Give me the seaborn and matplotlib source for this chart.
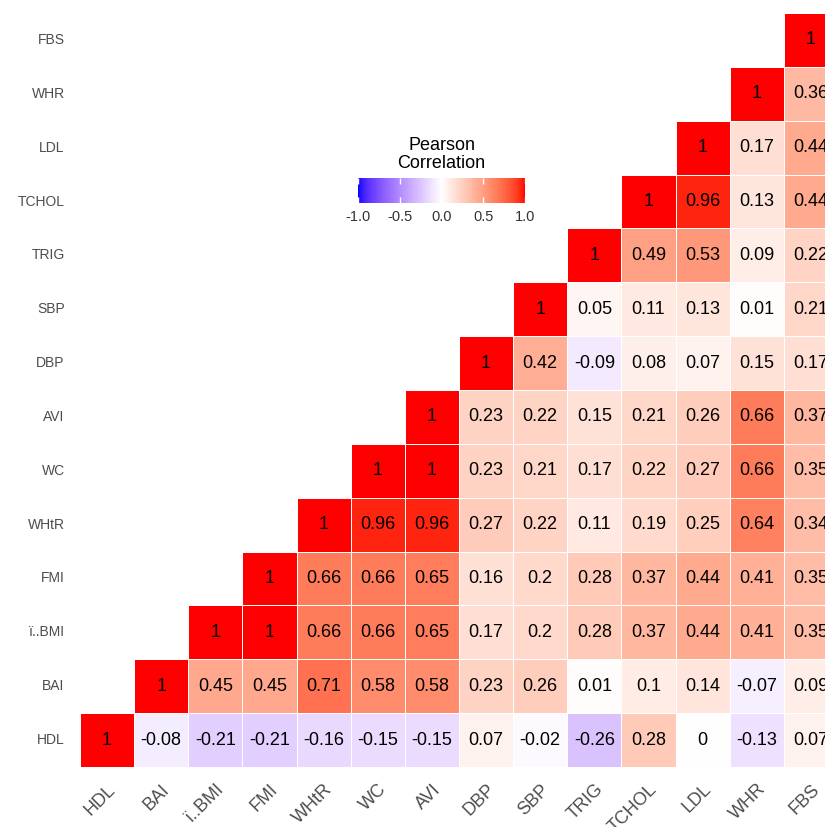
import numpy as np
import pandas as pd
import matplotlib
matplotlib.use("Agg")
import matplotlib.pyplot as plt
from matplotlib.colors import ListedColormap
import seaborn as sns

variables = ["HDL", "BAI", "ï..BMI", "FMI", "WHtR", "WC", "AVI", "DBP", "SBP",
             "TRIG", "TCHOL", "LDL", "WHR", "FBS"]

# upper-triangle rows: values from the diagonal to the last column
r_HDL = [1, -0.08, -0.21, -0.21, -0.16, -0.15, -0.15, 0.07, -0.02, -0.26, 0.28, 0, -0.13, 0.07]
r_BAI = [1, 0.45, 0.45, 0.71, 0.58, 0.58, 0.23, 0.26, 0.01, 0.1, 0.14, -0.07, 0.09]
r_BMI = [1, 1, 0.66, 0.66, 0.65, 0.17, 0.2, 0.28, 0.37, 0.44, 0.41, 0.35]
r_FMI = [1, 0.66, 0.66, 0.65, 0.16, 0.2, 0.28, 0.37, 0.44, 0.41, 0.35]
r_WHtR = [1, 0.96, 0.96, 0.27, 0.22, 0.11, 0.19, 0.25, 0.64, 0.34]
r_WC = [1, 1, 0.23, 0.21, 0.17, 0.22, 0.27, 0.66, 0.35]
r_AVI = [1, 0.23, 0.22, 0.15, 0.21, 0.26, 0.66, 0.37]
r_DBP = [1, 0.42, -0.09, 0.08, 0.07, 0.15, 0.17]
r_SBP = [1, 0.05, 0.11, 0.13, 0.01, 0.21]
r_TRIG = [1, 0.49, 0.53, 0.09, 0.22]
r_TCHOL = [1, 0.96, 0.13, 0.44]
r_LDL = [1, 0.17, 0.44]
r_WHR = [1, 0.36]
r_FBS = [1]

rows = [r_HDL, r_BAI, r_BMI, r_FMI, r_WHtR, r_WC, r_AVI, r_DBP, r_SBP,
        r_TRIG, r_TCHOL, r_LDL, r_WHR, r_FBS]

n = len(variables)
mat = np.full((n, n), np.nan)
for i, r in enumerate(rows):
    for k, v in enumerate(r):
        mat[i, i + k] = v

# rows displayed top-to-bottom: FBS ... HDL
df = pd.DataFrame(mat[::-1], index=variables[::-1], columns=variables)
mask = df.isna()

def fmt(v):
    if np.isnan(v):
        return ""
    return f"{v:g}"

annot = np.vectorize(fmt)(df.values)

# Lab-space diverging gradient blue - white - red (like ggplot's gradient2)
def srgb_to_lab(rgb):
    rgb = np.asarray(rgb, float)
    lin = np.where(rgb <= 0.04045, rgb / 12.92, ((rgb + 0.055) / 1.055) ** 2.4)
    M = np.array([[0.4124564, 0.3575761, 0.1804375],
                  [0.2126729, 0.7151522, 0.0721750],
                  [0.0193339, 0.1191920, 0.9503041]])
    xyz = M @ lin
    xyz = xyz / np.array([0.95047, 1.0, 1.08883])
    f = np.where(xyz > (6 / 29) ** 3, np.cbrt(xyz), xyz / (3 * (6 / 29) ** 2) + 4 / 29)
    return np.array([116 * f[1] - 16, 500 * (f[0] - f[1]), 200 * (f[1] - f[2])])

def lab_to_srgb(lab):
    L, a, b = lab
    fy = (L + 16) / 116
    fx = fy + a / 500
    fz = fy - b / 200
    f = np.array([fx, fy, fz])
    xyz = np.where(f > 6 / 29, f ** 3, 3 * (6 / 29) ** 2 * (f - 4 / 29))
    xyz = xyz * np.array([0.95047, 1.0, 1.08883])
    Minv = np.array([[3.2404542, -1.5371385, -0.4985314],
                     [-0.9692660, 1.8760108, 0.0415560],
                     [0.0556434, -0.2040259, 1.0572252]])
    lin = Minv @ xyz
    lin = np.clip(lin, 0, 1)
    rgb = np.where(lin <= 0.0031308, 12.92 * lin, 1.055 * lin ** (1 / 2.4) - 0.055)
    return np.clip(rgb, 0, 1)

lab_blue = srgb_to_lab([0, 0, 1])
lab_white = srgb_to_lab([1, 1, 1])
lab_red = srgb_to_lab([1, 0, 0])
cols = []
N = 256
for t in np.linspace(-1, 1, N):
    if t < 0:
        lab = lab_white + (lab_blue - lab_white) * (-t)
    else:
        lab = lab_white + (lab_red - lab_white) * t
    cols.append(lab_to_srgb(lab))
cmap = ListedColormap(cols)

plt.rcParams['font.family'] = ['Liberation Sans', 'DejaVu Sans']

fig = plt.figure(figsize=(8.25, 8.27), dpi=100)
ax = fig.add_axes([80 / 825, (827 - 767) / 827, 758 / 825, 754 / 827])
cax = fig.add_axes([358 / 825, (827 - 203) / 827, 167 / 825, 25 / 827])

sns.heatmap(df, mask=mask, cmap=cmap, vmin=-1, vmax=1, annot=annot, fmt="",
            annot_kws={"size": 13, "color": "black"}, linewidths=0.6,
            linecolor="white", square=False, ax=ax, cbar_ax=cax,
            cbar_kws={"orientation": "horizontal", "ticks": [-1, -0.5, 0, 0.5, 1]})

ax.tick_params(axis="both", length=0)
ax.tick_params(axis="y", pad=11)
ax.set_yticklabels(df.index, rotation=0, fontsize=10, color="#4d4d4d")
ax.set_xticklabels(df.columns, rotation=45, ha="right", va="top",
                   rotation_mode="anchor", fontsize=13, color="#4d4d4d")
ax.tick_params(axis="x", pad=10)
ax.set_xlabel("")
ax.set_ylabel("")

cb = ax.collections[0].colorbar
cb.outline.set_visible(False)
cax.tick_params(axis="x", length=4, width=1, color="white", direction="in",
                labelsize=10.5, labelcolor="#333333", pad=5, top=True, bottom=True)
cax.set_xticklabels(["-1.0", "-0.5", "0.0", "0.5", "1.0"])
cax.set_title("Pearson\nCorrelation", fontsize=13, color="black", pad=7,
              linespacing=1.1)

fig.savefig("out.png", dpi=100, facecolor="white")
